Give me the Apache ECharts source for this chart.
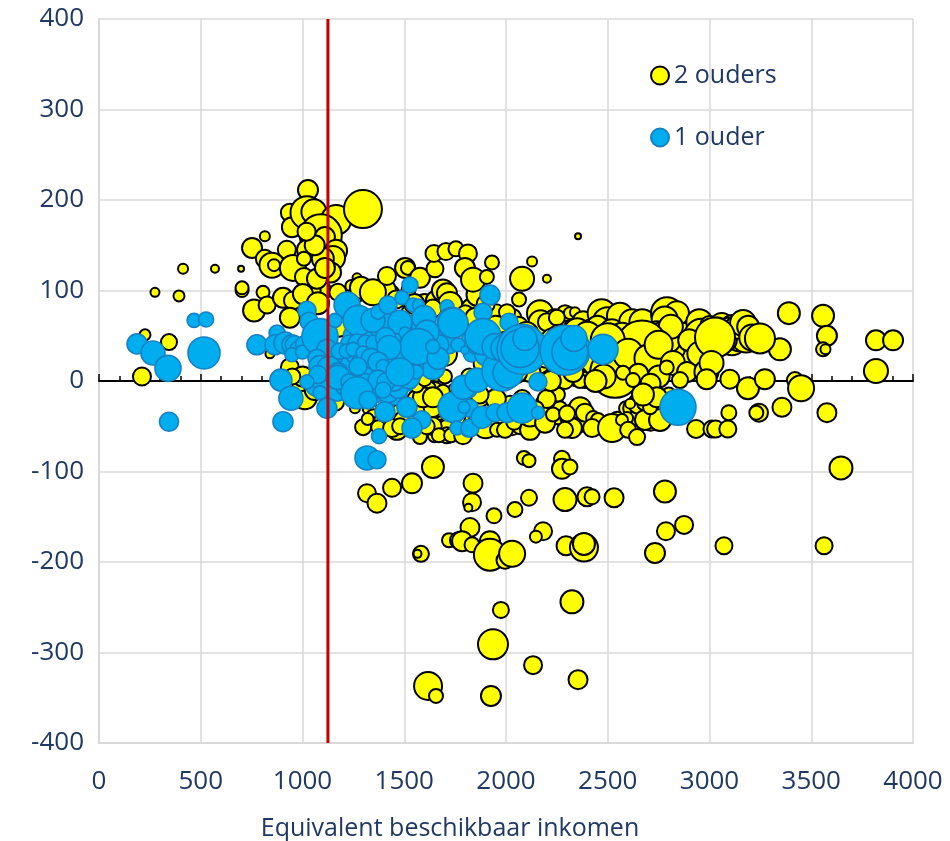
<!DOCTYPE html>
<html><head><meta charset="utf-8">
<style>html,body{margin:0;padding:0;background:#fff}#c{width:950px;height:841px}</style>
<script src="https://cdn.jsdelivr.net/npm/echarts@6/dist/echarts.min.js"></script>
</head><body><div id="c"></div>
<script>
const xLabelName = "Equivalent beschikbaar inkomen";
const armoedegrens = 1125;
// [inkomen, verschil, gewicht]
const tweeOuders = [
[1027,211,20],[938,186,18],[948,170,20],[1022,186,33],[1056,187,25],[1165,178,30],[1297,190,38],[1090,161,42],[1110,159,20],[1022,145,20],[1165,144,22],[1150,136,24],
[1100,135,22],[1140,120,20],[1060,150,20],[1020,165,18],[1085,100,22],[1180,60,20],[1040,100,20],[1000,85,18],[1240,105,12],[1260,95,16],[1430,95,20],[1400,100,24],[1460,90,18],[1520,100,14],[1530,75,18],[1600,85,20],[1660,88,22],[1690,100,22],[1730,85,22],[1770,70,22],[1830,80,20],[1860,95,22],[1880,60,18],[1950,75,18],[2030,70,18],[2060,60,20],[840,30,9],
[815,160,10],[752,147,20],[923,145,18],[815,135,18],[850,128,25],[860,128,12],[953,125,26],[1007,135,14],[1007,115,18],[1071,113,20],[1110,125,20],
[413,124,10],[570,124,8],[698,124,6],[275,98,9],[393,94,11],[703,100,13],[703,103,13],[806,98,13],[762,78,22],[826,84,17],[904,92,20],[953,89,18],[1002,96,20],[938,70,20],[1076,86,22],[1174,98,17],
[226,51,11],[344,43,16],[211,5,18],
[1268,114,9],[1287,103,22],[1346,98,26],[1415,116,18],[1504,125,20],[1518,125,14],[1577,114,20],[1651,124,17],[1646,141,17],[1705,143,17],[1754,146,15],[1813,141,18],[1798,125,20],[1838,112,24],[1906,115,14],[1931,131,14],
[2128,132,10],[2201,113,8],[2354,160,6],[2079,113,24],[2064,90,14],[2005,76,16],[1710,97,20],[1725,85,24],[1800,75,16],[1900,85,18],[1850,70,20],[1640,80,18],[1550,85,20],[1950,60,22],
[2167,75,26],[2170,65,24],[2240,67,22],[2201,65,18],[2290,75,16],[2314,75,12],[2339,76,10],[2250,70,16],[2380,65,22],[2470,75,28],[2500,65,30],[2560,72,26],[2620,65,26],[2670,65,26],
[2791,75,32],[2840,75,24],[2780,68,26],[2870,50,26],[2900,35,34],[2780,35,26],[2860,30,34],[2950,65,26],[2960,50,34],[3000,62,18],[3060,62,24],[3030,50,20],[3110,62,20],[3110,45,30],[3150,48,28],[3180,48,30],[3390,75,22],[3558,72,22],[3577,50,20],[3558,35,14],[3570,35,10],
[3818,45,20],[3902,45,20],[3818,11,24],[3346,35,22],[4035,60,18],
[2230,45,24],[2280,40,20],[2350,55,26],[2420,55,24],[2450,60,22],[2520,55,24],[2570,50,26],[2620,50,22],[2640,45,30],[2690,50,22],[2720,45,24],[2740,55,20],[2760,55,18],[2720,30,22],[2760,20,22],[2700,5,18],[2680,10,20],[2580,15,18],[2440,25,24],[2380,20,26],[2260,15,24],[2160,20,22],[2120,10,20],[2080,30,22],[2050,10,22],[2350,5,20],[2300,22,22],[2500,20,20],[2610,12,20],[2660,-5,20],[2680,18,18],[2830,35,20],[2800,45,24],[2810,60,24],[2900,45,22],[2950,30,24],[3040,58,22],[3080,45,22],[3090,60,18],[3140,60,24],[3165,64,26],[3190,60,22],[3210,48,26],[3240,47,26],[3248,47,30],
[2668,38,52],[2536,9,50],[3027,48,40],[2460,40,30],[2400,50,28],[2500,45,34],[2600,30,30],[2700,25,28],[2750,40,28],[2820,20,24],
[2000,40,26],[2100,52,24],[2200,30,28],[2260,50,22],[1800,45,20],[1700,30,24],[1620,30,22],[1900,20,24],
[2890,10,20],[2985,10,24],[3010,20,24],[2986,2,20],[2750,5,22],[2650,8,20],[2710,-3,20],[3100,2,19],[3189,-8,22],[3272,2,20],[3420,1,16],[3450,-8,26],[3356,-29,19],[3243,-35,18],[3230,-35,14],[3577,-35,19],[3095,-35,15],[2855,1,16],[2790,15,14],
[2934,-53,18],[3012,-53,17],[3030,-53,17],[3090,-53,17],
[1012,-18,24],[990,-2,17],[1160,-23,18],[938,15,18],[1258,-30,10],[1000,5,20],[1060,-10,20],[950,5,16],
[1330,-30,14],[1350,-40,16],[1400,-45,20],[1430,-30,16],[1470,-35,16],[1500,-45,22],[1530,-30,16],[1560,-20,18],[1620,-35,22],[1650,-10,16],[1680,-35,18],[1720,-15,16],[1750,-10,14],[1780,-30,20],[1800,-45,22],[1830,-30,18],[1860,-45,18],[1880,-25,16],[1920,-35,18],[1980,-40,18],[2020,-25,16],[2060,-40,18],[2100,-25,16],[1600,-30,20],[1640,-30,18],[1580,-50,16],[1520,-52,16],[1680,-48,16],[1690,-12,14],[1620,-8,14],[1580,5,12],[1540,10,12],[1650,-60,14],[2160,-45,16],[2190,-25,18],[2240,-25,16],[2260,-38,18],[2030,-50,18],[2070,-50,16],[2130,-45,20],[2310,-40,18],[2340,-35,20],[2350,-48,18],[2400,-45,16],[2470,-50,14],[2550,-45,20],[2590,-30,14],[2620,-30,18],[2640,-45,22],[2650,-25,20],[2710,-45,18],[2680,-25,14],[2800,-15,14],
[1298,-51,16],[1320,-42,12],[1372,-51,14],[1464,-54,20],[1440,-52,18],[1480,-50,16],[1577,-62,14],[1592,-18,20],[1560,-5,14],[1641,-18,20],[1600,2,14],[1700,-54,22],[1710,-54,20],[1710,-60,16],[1720,-30,14],[1660,5,10],[1700,5,14],[1760,-40,16],[1640,-50,18],[1670,-60,14],[1610,-50,16],[1730,-60,14],
[1789,-60,18],[1900,-50,24],[1956,-54,14],[1995,-54,16],[2040,-45,16],[2118,-54,20],[2118,-38,22],[2192,-46,20],[2231,-13,22],[2265,-30,14],[2231,-37,14],[2324,-52,20],[2290,-54,16],[2364,-30,22],[2388,-35,18],[2428,-41,14],[2452,-43,14],[2423,-52,18],[2521,-52,28],[2595,-41,12],[2570,-43,12],[2600,-54,16],[2610,-25,10],[2683,-43,20],[2644,-62,16],[2757,-43,22],[2708,-29,14],[2742,-18,20],[2673,-15,22],[2575,9,14],[2624,1,14],[2388,1,16],[2428,1,12],[2364,0,14],[2300,-36,16],[2255,-15,14],[2200,-20,18],[2150,-30,14],[2080,-20,18],[1950,-20,20],[1870,-15,18],[1820,5,16],[2480,5,24],[2440,0,22],[2290,0,16],[2330,10,20],[2220,0,20],
[1641,-95,22],[1317,-124,18],[1366,-135,19],[1440,-118,18],[1538,-113,20],[1838,-113,19],[1833,-134,18],[1815,-140,8],[1941,-149,15],[2044,-142,15],[2113,-129,16],[2088,-85,14],[2113,-88,13],[2275,-86,16],[2275,-97,20],[2314,-95,15],[2290,-131,23],[2398,-128,19],[2423,-128,15],[2531,-129,19],[2781,-122,22],[2786,-166,18],[2875,-159,18],[2732,-190,20],[3071,-182,17],[3563,-182,17],[3646,-96,23],
[1582,-191,16],[1565,-191,8],[1823,-162,19],[1720,-176,14],[1764,-176,16],[1784,-177,20],[1833,-181,15],[1921,-177,20],[1921,-192,32],[1995,-198,17],[2030,-191,26],[2182,-166,18],[2147,-172,12],[2295,-182,19],[2383,-184,28],[2383,-180,22],
[1975,-253,16],[2324,-244,23],[1936,-291,30],[2133,-314,18],[1617,-337,28],[1656,-348,14],[1926,-348,20],[2354,-330,19]
];
const eenOuder = [
[187,41,20],[265,31,24],[339,14,26],[344,-45,19],[467,67,14],[526,68,15],[516,31,32],
[776,40,20],[875,53,16],[865,40,20],[914,42,22],[948,40,20],[960,40,18],[975,36,14],[948,29,14],
[1420,-5,26],[1500,5,30],[1280,-2,28],[1350,-10,26],[1450,-12,26],[1430,15,26],[1330,30,24],[1260,50,24],[1400,55,24],[1540,45,30],[1600,25,26],[1150,12,26],[1120,10,24],[1070,-5,22],[1200,20,24],[1640,15,24],[1680,48,26],
[1150,30,20],[1180,20,22],[1230,18,18],[1260,30,20],[1290,20,20],[1320,12,18],[1350,30,20],[1380,36,20],[1410,28,22],[1440,20,24],[1460,42,20],[1500,30,22],[1530,35,18],[1540,15,22],[1350,5,22],[1300,-5,24],[1330,-15,18],[1420,-12,22],[1470,-8,20],[1520,5,24],[1170,-10,22],[1210,-5,20],[1130,40,18],[1100,28,20],[1060,35,20],[1040,42,22],[1010,40,18],[1000,32,14],[1300,55,20],[1390,57,22],[1420,65,18],[1450,48,14],[1530,60,22],[1580,60,18],[1640,55,14],[1560,10,14],[1090,-2,16],[1630,35,18],[1700,48,24],[1720,40,18],[1670,40,20],[1830,45,20],[1830,30,16],[1860,40,20],[1820,-30,18],[1905,30,24],[1960,15,24],[2000,30,26],[2040,18,28],[2120,28,20],
[1022,78,18],[1032,66,18],[1086,49,36],[1160,67,14],[1120,35,20],[1071,25,18],[1086,16,22],[1130,14,24],[1174,9,20],[1076,7,18],[1022,-1,14],[1086,-13,14],[1120,-30,20],[894,1,22],[943,-19,24],[904,-45,20],
[1219,84,26],[1273,67,30],[1346,67,24],[1371,76,14],[1420,84,18],[1489,92,14],[1528,106,16],[1543,84,14],[1570,84,12],[1479,65,24],[1597,70,24],[1710,82,14],[1735,65,30],[1504,53,12],[1612,54,24],[1568,38,36],[1666,25,22],[1640,38,14],[1764,40,14],[1798,34,8],
[1228,42,16],[1269,42,18],[1310,42,16],[1351,42,16],[1408,48,20],[1425,37,24],[1180,33,16],[1215,33,14],[1248,35,14],[1297,31,14],[1338,25,20],[1371,21,20],[1396,16,14],[1273,16,18],[1371,1,20],[1450,1,22],[1410,-1,18],[1479,10,28],
[1174,4,24],[1228,-1,16],[1268,-13,32],[1322,-21,18],[1405,-34,20],[1396,-10,16],[1513,-29,20],[1587,-43,18],[1538,-52,20],[1376,-61,15],[1317,-85,24],[1366,-87,18],
[1740,-29,30],[1794,-29,12],[1759,-52,14],[1808,-7,22],[1813,-54,14],[1789,-7,24],[1857,1,24],
[1921,95,20],[1887,76,18],[2015,65,18],[1887,49,36],[1740,64,30],[1980,11,40],[2010,9,30],[1946,38,26],[1995,36,28],[2079,35,50],[2069,36,38],[2093,47,24],
[2290,34,50],[2314,32,36],[2334,47,26],[2477,35,30],[2157,-1,18],
[1823,-52,18],[1882,-40,22],[1946,-35,18],[2005,-35,20],[2079,-30,30],[2157,-35,13],[2845,-29,36]
];
const chart = echarts.init(document.getElementById('c'));
const txt = '#1F3864', fam = '"Open Sans", sans-serif';
const gridC = '#D9D9D9';
const legendText = {color:txt,fontFamily:fam,fontSize:25};
chart.setOption({
  animation:false,
  legend:[
   {data:['2 ouders'],left:645,top:58,itemWidth:18,itemHeight:18,itemGap:8,textStyle:legendText},
   {data:['1 ouder'],left:645,top:120,itemWidth:18,itemHeight:18,itemGap:8,textStyle:legendText}
  ],
  grid:{left:99,top:19,width:814,height:724,outerBoundsMode:'none'},
  xAxis:[
   {type:'value',min:0,max:4000,interval:500,position:'bottom',
    name:xLabelName,nameLocation:'middle',nameGap:73,nameTextStyle:{color:txt,fontFamily:fam,fontSize:25,padding:[0,112,0,0]},
    axisLine:{onZero:false,show:true,lineStyle:{color:gridC,width:2}},axisTick:{show:false},
    axisLabel:{color:txt,fontFamily:fam,fontSize:26,margin:26,hideOverlap:false,formatter:v=>String(v)},
    splitLine:{show:true,lineStyle:{color:gridC,width:1.5}}},
   {type:'value',min:0,max:4000,interval:500,position:'bottom',
    axisLine:{show:true,onZero:true,lineStyle:{color:'#000',width:2}},
    axisTick:{show:true,inside:true,length:7,lineStyle:{color:'#000',width:1.5}},
    minorTick:{show:true,splitNumber:5,length:5,lineStyle:{color:'#000',width:1.5}},
    axisLabel:{show:false},splitLine:{show:false}}
  ],
  yAxis:{type:'value',min:-400,max:400,interval:100,
    axisLine:{show:true,onZero:false,lineStyle:{color:gridC,width:2}},axisTick:{show:false},
    axisLabel:{color:txt,fontFamily:fam,fontSize:26,margin:15},
    splitLine:{show:true,lineStyle:{color:gridC,width:1.5}}},
  series:[
   {name:'2 ouders',type:'scatter',data:tweeOuders,z:3,symbolSize:v=>v[2],
    itemStyle:{color:'#FFFF00',borderColor:'#000',borderWidth:2,opacity:1}},
   {name:'1 ouder',type:'scatter',data:eenOuder,z:4,symbolSize:v=>v[2],
    itemStyle:{color:'#00AEEF',borderColor:'#1581C5',borderWidth:1.6,opacity:1}},
   {name:'grens',type:'line',data:[[armoedegrens,-400],[armoedegrens,400]],z:5,symbol:'none',
    lineStyle:{color:'#C00000',width:3}}
  ]
});
</script></body></html>
